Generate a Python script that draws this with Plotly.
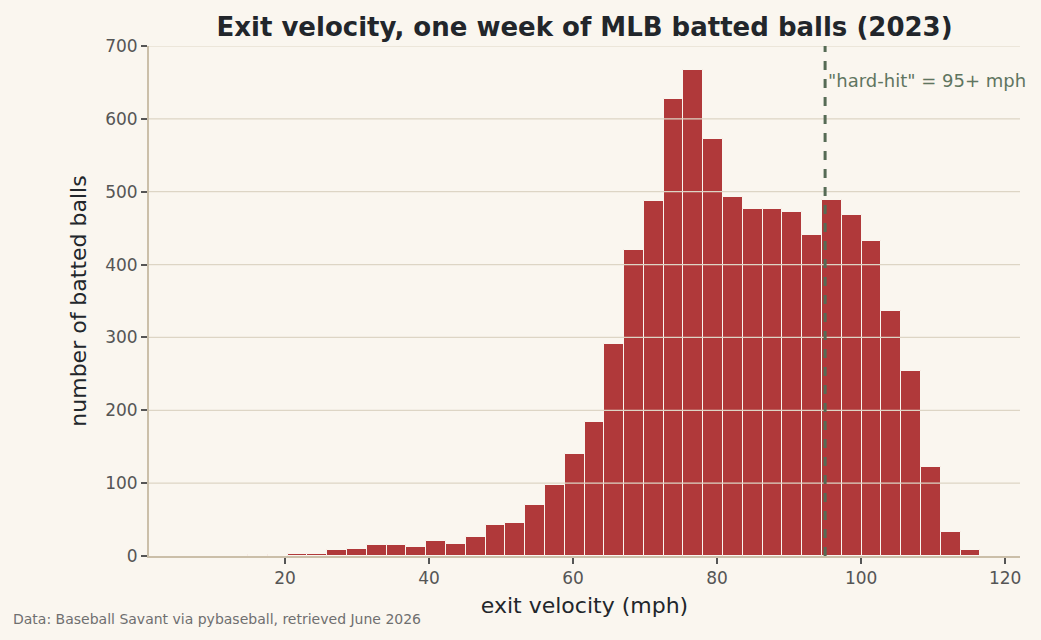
import plotly.graph_objects as go

# Histogram bins (mph) and counts
bin_start = 1.11
bin_width = 2.749
counts = [0, 0, 0, 0, 0, 1, 1, 3, 3, 8,
          9, 15, 15, 12, 21, 17, 26, 43, 45, 70,
          98, 140, 184, 291, 420, 487, 627, 667, 572, 493,
          476, 476, 472, 441, 488, 468, 432, 336, 254, 122,
          33, 8, 0, 0]
hard_hit = 95
x_ticks = [20, 40, 60, 80, 100, 120]
y_ticks = [0, 100, 200, 300, 400, 500, 600, 700]

centers = [bin_start + bin_width * (i + 0.5) for i in range(len(counts))]
x_end = bin_start + bin_width * len(counts)

BG = "#faf6ef"
BAR = "#b0393a"
AXIS = "#cbbfa9"
GRID = "#ddd5c5"
LINE = "#566b55"
FONT = "DejaVu Sans"

fig = go.Figure()
fig.add_trace(go.Bar(
    x=centers, y=counts, width=bin_width,
    marker=dict(color=BAR, line=dict(color=BG, width=1)),
    hoverinfo="skip",
))

# gridlines drawn above the bars, as in the reference
for yv in y_ticks[1:]:
    fig.add_shape(type="line", xref="paper", yref="y", x0=0, x1=1, y0=yv, y1=yv,
                  layer="above", line=dict(color=GRID, width=1.2))

fig.add_shape(type="line", x0=hard_hit, x1=hard_hit, y0=0, y1=1,
              xref="x", yref="paper", layer="above",
              line=dict(color=LINE, width=3, dash="dash"))
fig.add_annotation(x=hard_hit, y=652, xref="x", yref="y",
                   text='"hard-hit" = 95+ mph', showarrow=False,
                   xanchor="left", yanchor="middle", xshift=1,
                   font=dict(family=FONT, size=18, color="#5f7560"))
fig.add_annotation(x=-0.158, y=-0.1235, xref="paper", yref="paper",
                   xanchor="left", yanchor="middle", showarrow=False,
                   text="Data: Baseball Savant via pybaseball, retrieved June 2026",
                   font=dict(family=FONT, size=14, color="#6f6f6f"))

fig.update_layout(
    width=1041, height=640,
    paper_bgcolor=BG, plot_bgcolor=BG,
    margin=dict(l=149, r=21, t=46, b=84),
    showlegend=False,
    bargap=0,
    font=dict(family=FONT, color="#444444"),
    title=dict(text="<b>Exit velocity, one week of MLB batted balls (2023)</b>",
               x=0.5, xref="paper", xanchor="center", y=0.958, yanchor="middle",
               font=dict(family=FONT, size=26, color="#22262b")),
)
fig.update_xaxes(
    range=[bin_start, x_end], tickvals=x_ticks,
    showgrid=False, zeroline=False,
    showline=True, linecolor=AXIS, linewidth=2, layer="above traces",
    ticks="outside", ticklen=6, tickcolor="#555555", tickwidth=2,
    tickfont=dict(family=FONT, size=17, color="#555555"),
    title=dict(text="exit velocity (mph)", standoff=10,
               font=dict(family=FONT, size=22, color="#22262b")),
)
fig.update_yaxes(
    range=[0, 700], tickvals=y_ticks,
    showgrid=False, zeroline=False,
    showline=True, linecolor=AXIS, linewidth=2, layer="above traces",
    ticks="outside", ticklen=6, tickcolor="#555555", tickwidth=2,
    tickfont=dict(family=FONT, size=17, color="#555555"),
    title=dict(text="number of batted balls", standoff=12,
               font=dict(family=FONT, size=22, color="#22262b")),
)

fig.write_html("out.html")
